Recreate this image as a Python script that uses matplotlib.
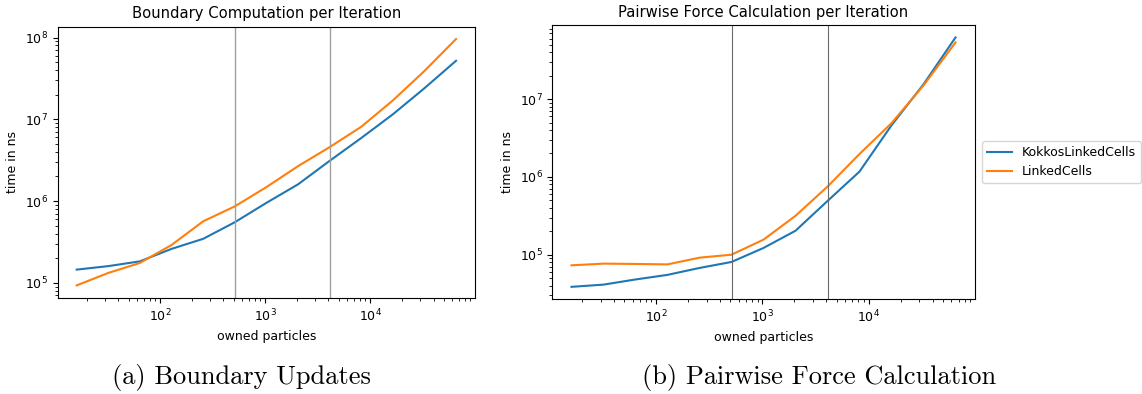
import matplotlib
matplotlib.use("Agg")
import matplotlib.pyplot as plt

# owned particles per rank
particles = [16, 32, 64, 128, 256, 512, 1024, 2048, 4096, 8192, 16384, 32768, 65536]
vlines = [512, 4096]

# boundary computation time (ns)
boundary_kokkos = [1.45e5, 1.6e5, 1.83e5, 2.6e5, 3.45e5, 5.5e5, 9.5e5, 1.6e6,
                   3.1e6, 5.9e6, 1.15e7, 2.4e7, 5.2e7]
boundary_linked = [9.3e4, 1.32e5, 1.75e5, 2.9e5, 5.65e5, 8.6e5, 1.48e6, 2.67e6,
                   4.56e6, 8.1e6, 1.7e7, 3.9e7, 9.6e7]

# pairwise force calculation time (ns)
force_kokkos = [3.86e4, 4.12e4, 4.8e4, 5.5e4, 6.75e4, 8.06e4, 1.22e5, 2.03e5,
                4.9e5, 1.17e6, 4.6e6, 1.55e7, 6.2e7]
force_linked = [7.3e4, 7.67e4, 7.6e4, 7.5e4, 9.15e4, 1.0e5, 1.56e5, 3.16e5,
                7.5e5, 1.97e6, 4.9e6, 1.5e7, 5.35e7]

labels = ["KokkosLinkedCells", "LinkedCells"]
captions = ["(a) Boundary Updates", "(b) Pairwise Force Calculation"]

plt.rcParams["font.size"] = 9

fig = plt.figure(figsize=(11.42, 3.94), dpi=100)
ax1 = fig.add_axes([57.7 / 1142, 1 - 297.7 / 394, (475 - 57.7) / 1142, (297.7 - 26.7) / 394])
ax2 = fig.add_axes([552.3 / 1142, 1 - 299.3 / 394, (974.7 - 552.3) / 1142, (299.3 - 25) / 394])

ax1.plot(particles, boundary_kokkos, label=labels[0])
ax1.plot(particles, boundary_linked, label=labels[1])
for v in vlines:
    ax1.axvline(v, color="#a0a0a0", lw=1)
ax1.set_title("Boundary Computation per Iteration", fontsize=10.6)

ax2.plot(particles, force_kokkos, label=labels[0])
ax2.plot(particles, force_linked, label=labels[1])
for v in vlines:
    ax2.axvline(v, color="#6a6a6a", lw=0.8)
ax2.set_title("Pairwise Force Calculation per Iteration", fontsize=10.6)
ax2.legend(loc="center left", bbox_to_anchor=(1.003, 0.5))

for ax in (ax1, ax2):
    ax.set_xscale("log")
    ax.set_yscale("log")
    ax.set_xlabel("owned particles")
    ax.set_ylabel("time in ns")

fig.text(241 / 1142, 1 - 384 / 394, captions[0], family="cmr10", fontsize=19, ha="center", va="baseline")
fig.text(819.5 / 1142, 1 - 384 / 394, captions[1], family="cmr10", fontsize=19, ha="center", va="baseline")

fig.savefig("out.png", dpi=100)
